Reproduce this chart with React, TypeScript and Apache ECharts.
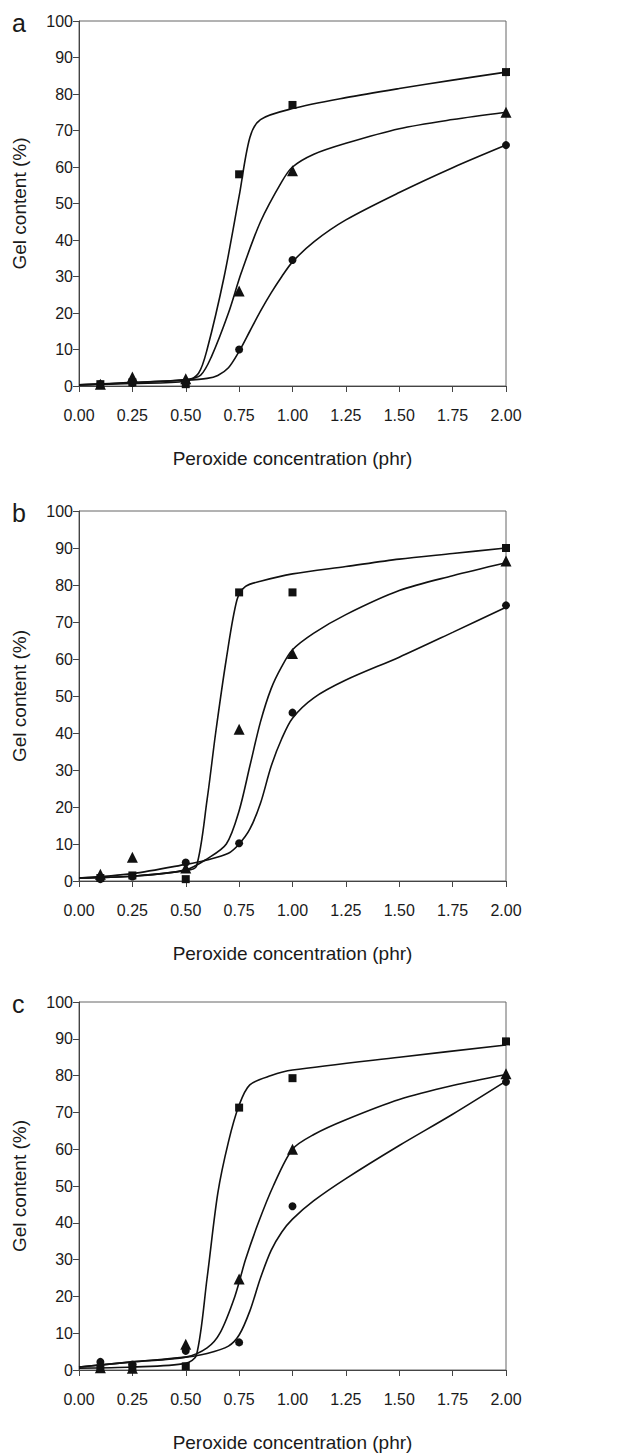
import React, { useEffect, useRef } from "react";
import * as echarts from "echarts";

// measured concentrations (phr)
const concentrations = [0.1, 0.25, 0.5, 0.75, 1.0, 2.0];

// Panel a – gel content (%)
const aSquares = [0.5, 1.0, 0.5, 58, 77, 86];
const aTriangles = [0.5, 2.5, 2.0, 26, 59, 75];
const aCircles = [0.5, 0.8, 1.0, 10, 34.5, 66];

// Panel b
const bSquares = [0.8, 1.5, 0.5, 78, 78, 90];
const bTriangles = [1.8, 6.4, 3.5, 41, 61.5, 86.5];
const bCircles = [0.5, 1.2, 5.0, 10.2, 45.5, 74.5];

// Panel c
const cSquares = [0.4, 0.8, 1.0, 71.3, 79.3, 89.3];
const cTriangles = [0.6, 0.5, 7.0, 24.7, 60, 80.5];
const cCircles = [2.2, 1.5, 5.2, 7.5, 44.5, 78.3];

// fitted curves: [x, y]
const aSquareCurve = [[0, 0.3], [0.25, 0.7], [0.5, 1.3], [0.56, 3.5], [0.6, 10], [0.68, 30], [0.75, 52], [0.8, 68], [0.85, 73], [1.0, 76], [1.25, 79], [1.5, 81.5], [1.75, 83.8], [2.0, 86]];
const aTriangleCurve = [[0, 0.3], [0.25, 1.0], [0.5, 1.8], [0.57, 3], [0.62, 8], [0.7, 20], [0.76, 31], [0.85, 45], [0.95, 56], [1.0, 60], [1.1, 63.5], [1.25, 66.5], [1.5, 70.5], [1.75, 73], [2.0, 75]];
const aCircleCurve = [[0, 0.3], [0.25, 0.9], [0.5, 1.6], [0.6, 2.1], [0.65, 2.9], [0.7, 5], [0.75, 9.5], [0.8, 15], [0.85, 20.5], [0.9, 25.5], [0.95, 30], [1.0, 34], [1.1, 39.5], [1.25, 45.5], [1.5, 53], [1.75, 59.8], [2.0, 66]];

const bSquareCurve = [[0, 0.8], [0.25, 1.3], [0.5, 2.8], [0.55, 4], [0.6, 22], [0.64, 40], [0.69, 60], [0.74, 76], [0.78, 79.6], [0.85, 81], [1.0, 83], [1.25, 85], [1.5, 87], [1.75, 88.5], [2.0, 90]];
const bTriangleCurve = [[0, 0.8], [0.25, 1.3], [0.5, 3.0], [0.6, 6], [0.69, 10], [0.75, 19], [0.8, 31], [0.85, 43], [0.9, 52], [0.95, 58], [1.0, 62.5], [1.1, 67], [1.25, 72], [1.5, 78.5], [1.75, 82.5], [2.0, 86]];
const bCircleCurve = [[0, 0.8], [0.25, 2], [0.5, 4.5], [0.6, 5.7], [0.7, 7.5], [0.75, 10], [0.8, 14], [0.85, 21], [0.9, 31], [0.95, 38.5], [1.0, 44], [1.1, 49.5], [1.25, 54.3], [1.5, 60.5], [1.75, 67.2], [2.0, 74]];

const cSquareCurve = [[0, 0.5], [0.25, 0.8], [0.5, 1.8], [0.55, 4], [0.6, 25], [0.65, 48], [0.7, 62], [0.75, 72], [0.8, 77.5], [0.9, 80], [1.0, 81.5], [1.5, 85], [2.0, 88.3]];
const cTriangleCurve = [[0, 0.8], [0.25, 2.2], [0.5, 3.5], [0.6, 6], [0.66, 10], [0.73, 20], [0.78, 30], [0.84, 40], [0.91, 50], [1.0, 60], [1.1, 64], [1.25, 68], [1.5, 73.5], [1.75, 77.3], [2.0, 80.3]];
const cCircleCurve = [[0, 0.8], [0.25, 2.2], [0.5, 3.5], [0.6, 4.5], [0.7, 6.5], [0.75, 9.5], [0.8, 16], [0.85, 25], [0.9, 32.5], [0.95, 37.5], [1.0, 41], [1.1, 46], [1.25, 52], [1.5, 61], [1.75, 69.5], [2.0, 78.5]];

const panelLabels = ["a", "b", "c"];
const xAxisTitle = "Peroxide concentration (phr)";
const yAxisTitle = "Gel content (%)";

const panels = [
  { squares: aSquares, triangles: aTriangles, circles: aCircles, curves: [aSquareCurve, aTriangleCurve, aCircleCurve] },
  { squares: bSquares, triangles: bTriangles, circles: bCircles, curves: [bSquareCurve, bTriangleCurve, bCircleCurve] },
  { squares: cSquares, triangles: cTriangles, circles: cCircles, curves: [cSquareCurve, cTriangleCurve, cCircleCurve] },
];

const gridBoxes = [
  { top: 21, height: 365 },
  { top: 511, height: 370 },
  { top: 1002, height: 369 },
];

const FONT = "'Liberation Sans', Arial, sans-serif";
const INK = "#111";
const AXIS = "#444";
const TXT = "#1a1a1a";

export default function App() {
  const ref = useRef<HTMLDivElement>(null);
  useEffect(() => {
    if (!ref.current) return;
    const chart = echarts.init(ref.current, undefined, { renderer: "svg" });
    const grid: any[] = [];
    const xAxis: any[] = [];
    const yAxis: any[] = [];
    const series: any[] = [];
    const graphic: any[] = [];
    panels.forEach((p, i) => {
      const g = gridBoxes[i];
      grid.push({ left: 79, width: 427, top: g.top, height: g.height, show: true, borderColor: "#666", borderWidth: 1, backgroundColor: "transparent" });
      xAxis.push({
        type: "value", gridIndex: i, min: 0, max: 2, interval: 0.25,
        name: xAxisTitle, nameLocation: "middle", nameGap: 63,
        nameTextStyle: { fontFamily: FONT, fontSize: 19, color: TXT },
        axisLine: { show: true, lineStyle: { color: AXIS, width: 1 } },
        axisTick: { show: true, inside: false, length: 6, lineStyle: { color: AXIS } },
        axisLabel: { fontFamily: FONT, fontSize: 16, color: TXT, margin: 21, formatter: (v: number) => v.toFixed(2) },
        splitLine: { show: false },
      });
      yAxis.push({
        type: "value", gridIndex: i, min: 0, max: 100, interval: 10,
        name: yAxisTitle, nameLocation: "middle", nameGap: 50, nameRotate: 90,
        nameTextStyle: { fontFamily: FONT, fontSize: 19, color: TXT },
        axisLine: { show: true, lineStyle: { color: AXIS, width: 1 } },
        axisTick: { show: true, inside: false, length: 6, lineStyle: { color: AXIS } },
        axisLabel: { fontFamily: FONT, fontSize: 16, color: TXT, margin: 6 },
        splitLine: { show: false },
      });
      p.curves.forEach((c) => {
        series.push({
          type: "line", xAxisIndex: i, yAxisIndex: i, data: c, smooth: 0.3,
          showSymbol: false, symbol: "none", lineStyle: { color: INK, width: 1.6 }, z: 2,
        });
      });
      const mk = (vals: number[], symbol: string, size: number) => ({
        type: "scatter", xAxisIndex: i, yAxisIndex: i, symbol, symbolSize: size,
        data: concentrations.map((x, k) => [x, vals[k]]),
        itemStyle: { color: INK, opacity: 1 }, z: 3,
      });
      series.push(mk(p.squares, "rect", 8));
      series.push(mk(p.triangles, "triangle", 11));
      series.push(mk(p.circles, "circle", 8));
      graphic.push({
        type: "text", left: 12, top: g.top - 11,
        style: { text: panelLabels[i], fontFamily: FONT, fontSize: 25, fill: TXT },
      });
    });
    chart.setOption({ animation: false, backgroundColor: "#fff", grid, xAxis, yAxis, series, graphic });
    return () => chart.dispose();
  }, []);
  return <div ref={ref} style={{ position: "absolute", left: 0, top: 0, width: 621, height: 1453 }} />;
}
